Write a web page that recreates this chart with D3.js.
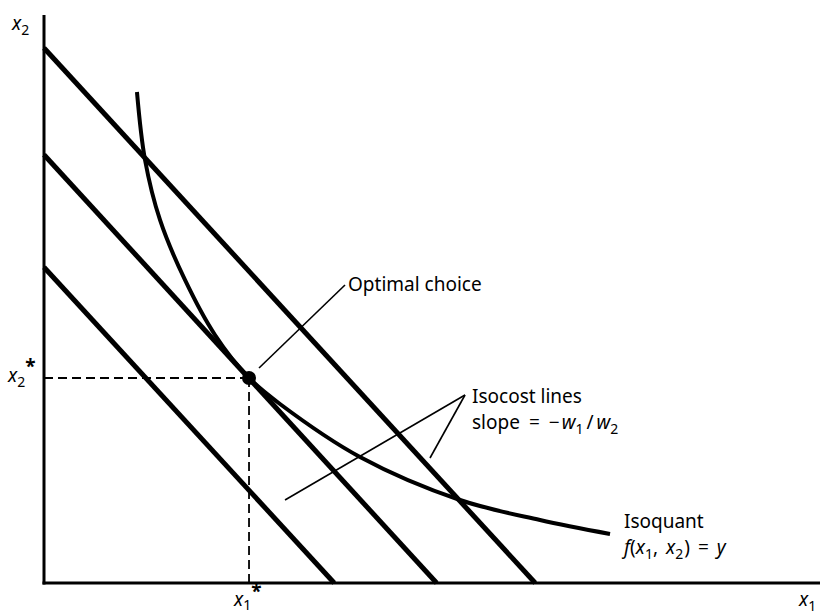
<!DOCTYPE html>
<html><head><meta charset="utf-8">
<script src="https://cdn.jsdelivr.net/npm/d3@7"></script>
<style>body{margin:0;background:#fff}text{font-family:"Noto Sans",sans-serif;fill:#000}</style>
</head><body>
<script>
// Data (abstract units, x1 and x2 from 0 to 100)
const isocostYIntercepts = [94.2, 75.4, 55.6];
const isocostXIntercepts = [63.3, 50.6, 37.4];
const isoquantX = [11.98, 13.02, 14.95, 18.17, 22.04, 26.42, 30.41, 40.72, 53.61, 63.92, 72.94];
const isoquantY = [86.44, 74.47, 63.91, 53.35, 43.66, 36.09, 31.51, 22.18, 14.61, 11.09, 8.63];
const optimum = [26.42, 36.09];

const W = 821, H = 615;
const svg = d3.select("body").append("svg").attr("width", W).attr("height", H);
const x = d3.scaleLinear().domain([0, 100]).range([44, 820]);
const y = d3.scaleLinear().domain([0, 100]).range([583, 15]);

// axes
svg.append("line").attr("x1", x(0)).attr("x2", x(0)).attr("y1", y(100)).attr("y2", y(0) + 1.5)
  .attr("stroke", "#000").attr("stroke-width", 3);
svg.append("line").attr("x1", x(0) - 1.5).attr("x2", x(100)).attr("y1", y(0)).attr("y2", y(0))
  .attr("stroke", "#000").attr("stroke-width", 3);

// dashed guides
svg.append("line").attr("x1", x(0)).attr("x2", x(optimum[0])).attr("y1", y(optimum[1])).attr("y2", y(optimum[1]))
  .attr("stroke", "#000").attr("stroke-width", 1.8).attr("stroke-dasharray", "9,5");
svg.append("line").attr("x1", x(optimum[0])).attr("x2", x(optimum[0])).attr("y1", y(optimum[1])).attr("y2", y(0))
  .attr("stroke", "#000").attr("stroke-width", 1.8).attr("stroke-dasharray", "9,5");

// isocost lines
isocostYIntercepts.forEach((b, i) => {
  svg.append("line").attr("x1", x(0)).attr("y1", y(b)).attr("x2", x(isocostXIntercepts[i])).attr("y2", y(0))
    .attr("stroke", "#000").attr("stroke-width", 5);
});

// isoquant
const pts = isoquantX.map((v, i) => [v, isoquantY[i]]);
svg.append("path").datum(pts)
  .attr("d", d3.line().x(d => x(d[0])).y(d => y(d[1])).curve(d3.curveCatmullRom.alpha(0.5)))
  .attr("fill", "none").attr("stroke", "#000").attr("stroke-width", 4);

// optimal point
svg.append("circle").attr("cx", x(optimum[0])).attr("cy", y(optimum[1])).attr("r", 7).attr("fill", "#000");

// leaders
const leader = (x1, y1, x2, y2) => svg.append("line").attr("x1", x1).attr("y1", y1).attr("x2", x2).attr("y2", y2)
  .attr("stroke", "#000").attr("stroke-width", 1.6);
leader(x(optimum[0]) + 10, y(optimum[1]) - 10, 345, 285);
leader(465, 395, 430, 458);
leader(465, 395, 285, 500);

// labels
const fs = 19, sub = 14;
function lab(tx, ty, parts, anchor) {
  const t = svg.append("text").attr("x", tx).attr("y", ty).attr("font-size", fs).attr("text-anchor", anchor || "start");
  parts.forEach(p => {
    const s = t.append("tspan").text(p.t);
    if (p.i) s.attr("font-style", "italic");
    if (p.dy) s.attr("dy", p.dy);
    if (p.dx) s.attr("dx", p.dx);
    if (p.fs) s.attr("font-size", p.fs);
    if (p.b) s.attr("font-weight", "bold");
  });
  return t;
}
lab(12, 30, [{t: "x", i: 1}, {t: "2", dy: 5, fs: sub}]);
lab(8, 382, [{t: "x", i: 1}, {t: "2", dy: 5, fs: sub}, {t: "*", dy: -14, fs: 19, b: 1}]);
lab(234, 606, [{t: "x", i: 1}, {t: "1", dy: 4, fs: sub}, {t: "*", dy: -12, fs: 19, b: 1}]);
lab(799, 606, [{t: "x", i: 1}, {t: "1", dy: 5, fs: sub}]);
lab(348, 291, [{t: "Optimal choice"}]);
lab(472, 403, [{t: "Isocost lines"}]);
lab(472, 429, [{t: "slope"}, {t: "=", dx: 9}, {t: "\u2212", dx: 9}, {t: "w", i: 1, dx: 2}, {t: "1", dy: 5, fs: sub}, {t: "/", dy: -5, dx: 3}, {t: "w", i: 1, dx: 3}, {t: "2", dy: 5, fs: sub}]);
lab(624, 528, [{t: "Isoquant"}]);
lab(624, 554, [{t: "f", i: 1}, {t: "("}, {t: "x", i: 1}, {t: "1", dy: 5, fs: sub}, {t: ",", dy: -5}, {t: "x", i: 1, dx: 8}, {t: "2", dy: 5, fs: sub}, {t: ")", dy: -5, dx: 1}, {t: "=", dx: 8}, {t: "y", i: 1, dx: 8}]);
</script>
</body></html>
